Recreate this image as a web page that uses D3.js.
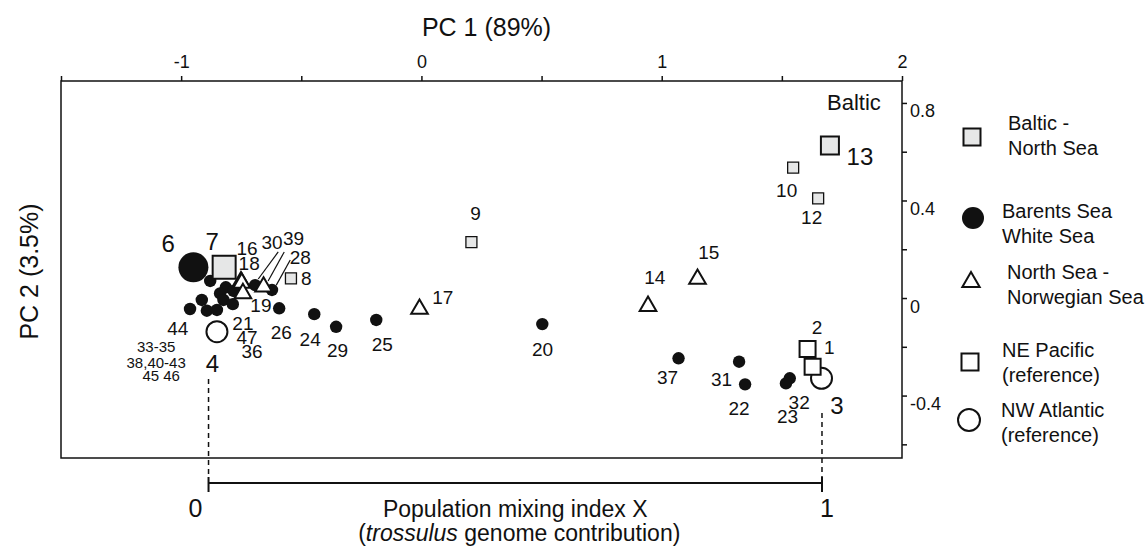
<!DOCTYPE html>
<html>
<head>
<meta charset="utf-8">
<script src="https://cdn.jsdelivr.net/npm/d3@7"></script>
<style>
  body { margin: 0; background: #fff; }
  svg { display: block; font-family: "Liberation Sans", Arial, Helvetica, sans-serif; fill: #111; }
</style>
</head>
<body>
<svg id="chart" width="1148" height="546"></svg>
<script>
//
// Data (PC1, PC2 scores)
//

const balticNorthSea = [
  {id: '7', pc1: -0.821, pc2: 0.126},
  {id: '8', pc1: -0.543, pc2: 0.081},
  {id: '9', pc1: 0.208, pc2: 0.229},
  {id: '10', pc1: 1.547, pc2: 0.535},
  {id: '12', pc1: 1.651, pc2: 0.409},
  {id: '13', pc1: 1.700, pc2: 0.625}
];

const barentsWhiteSea = [
  {id: '6', pc1: -0.949, pc2: 0.126},
  {id: '33', pc1: -0.879, pc2: 0.070},
  {id: '21', pc1: -0.814, pc2: 0.044},
  {id: '34', pc1: -0.838, pc2: 0.019},
  {id: '35', pc1: -0.824, pc2: -0.008},
  {id: '38', pc1: -0.914, pc2: -0.008},
  {id: '44', pc1: -0.963, pc2: -0.045},
  {id: '45', pc1: -0.893, pc2: -0.052},
  {id: '46', pc1: -0.851, pc2: -0.049},
  {id: '47', pc1: -0.785, pc2: -0.025},
  {id: '36', pc1: -0.782, pc2: 0.029},
  {id: '30', pc1: -0.692, pc2: 0.053},
  {id: '28', pc1: -0.622, pc2: 0.033},
  {id: '26', pc1: -0.592, pc2: -0.042},
  {id: '24', pc1: -0.446, pc2: -0.066},
  {id: '29', pc1: -0.355, pc2: -0.118},
  {id: '25', pc1: -0.188, pc2: -0.090},
  {id: '20', pc1: 0.503, pc2: -0.107},
  {id: '37', pc1: 1.070, pc2: -0.247},
  {id: '31', pc1: 1.322, pc2: -0.261},
  {id: '22', pc1: 1.347, pc2: -0.354},
  {id: '32', pc1: 1.533, pc2: -0.329},
  {id: '23', pc1: 1.517, pc2: -0.350}
];

const northNorwegianSea = [
  {id: '16', pc1: -0.751, pc2: 0.067},
  {id: '18', pc1: -0.748, pc2: 0.062},
  {id: '19', pc1: -0.743, pc2: 0.019},
  {id: '39', pc1: -0.657, pc2: 0.046},
  {id: '17', pc1: -0.008, pc2: -0.045},
  {id: '14', pc1: 0.943, pc2: -0.033},
  {id: '15', pc1: 1.149, pc2: 0.078}
];

const nePacific = [
  {id: '2', pc1: 1.607, pc2: -0.209},
  {id: '1', pc1: 1.628, pc2: -0.282}
];

const nwAtlantic = [
  {id: '3', pc1: 1.665, pc2: -0.329},
  {id: '4', pc1: -0.851, pc2: -0.138}
];

// Populations drawn larger in the figure
const bigPoints = ['6', '7', '13'];

// Mixing index X: 0 and 1 sit at these PC1 values
const mixIndex = [0, 1];
const mixAnchorsPc1 = [-0.886, 1.667];

const pc1Ticks = [-1.5, -1, -0.5, 0, 0.5, 1, 1.5, 2];
const pc2Ticks = [-0.6, -0.4, -0.2, 0, 0.2, 0.4, 0.6, 0.8];
const pc2Labelled = [-0.4, 0, 0.4, 0.8];

const legendNames = [
  ['Baltic -', 'North Sea'],
  ['Barents Sea', 'White Sea'],
  ['North Sea -', 'Norwegian Sea'],
  ['NE Pacific', '(reference)'],
  ['NW Atlantic', '(reference)']
];

// Point labels, placed in PC space: [text, pc1, pc2, kind]
const pointLabels = [
  ['6', -1.054, 0.226, 'big'], ['7', -0.871, 0.234, 'big'],
  ['16', -0.726, 0.204], ['18', -0.717, 0.142], ['30', -0.622, 0.231],
  ['39', -0.532, 0.245], ['28', -0.504, 0.167], ['8', -0.479, 0.081],
  ['19', -0.668, -0.029], ['21', -0.743, -0.104], ['47', -0.726, -0.161],
  ['36', -0.705, -0.216], ['44', -1.014, -0.124],
  ['33-35', -1.104, -0.200, 'small'], ['38,40-43', -1.104, -0.265, 'small'],
  ['45 46', -1.083, -0.319, 'small'], ['4', -0.870, -0.268, 'big'],
  ['26', -0.583, -0.141], ['24', -0.463, -0.168], ['29', -0.349, -0.213],
  ['25', -0.163, -0.189], ['17', 0.089, 0.005], ['9', 0.225, 0.350],
  ['20', 0.504, -0.209], ['14', 0.971, 0.087], ['15', 1.196, 0.190],
  ['37', 1.024, -0.323], ['31', 1.249, -0.332], ['22', 1.322, -0.453],
  ['32', 1.572, -0.425], ['23', 1.524, -0.483], ['2', 1.646, -0.120],
  ['1', 1.697, -0.202], ['3', 1.729, -0.439, 'big'], ['10', 1.520, 0.443],
  ['12', 1.624, 0.331], ['13', 1.825, 0.580, 'big'], ['Baltic', 1.80, 0.804, 'region']
];

// Leader lines from labels 30, 39, 28 to their points
const leaders = [
  [[-0.596, 0.189], [-0.679, 0.078]],
  [[-0.571, 0.189], [-0.638, 0.070]],
  [[-0.546, 0.156], [-0.604, 0.053]]
];

//
// Layout
//

const svg = d3.select('#chart');
const ink = '#111';
const grayFill = '#e6e7e7';
const fontSize = {normal: 19, big: 24, small: 15, region: 22};

const x = d3.scaleLinear().domain([-1.5, 2]).range([61, 902]);
const y = d3.scaleLinear().domain([-0.656, 0.89]).range([458, 81]);
const mix = d3.scaleLinear().domain(mixIndex).range(mixAnchorsPc1.map(x));

const symbolPath = (type, size) => d3.symbol().type(type).size(size)();

// Frame
svg.append('rect')
    .attr('x', x(-1.5)).attr('y', y(0.89))
    .attr('width', x(2) - x(-1.5)).attr('height', y(-0.656) - y(0.89))
    .attr('fill', 'none').attr('stroke', ink).attr('stroke-width', 1.5);

// Top axis (PC 1)
const topAxis = svg.append('g')
    .attr('transform', `translate(0,${y(0.89)})`)
    .call(d3.axisTop(x).tickValues(pc1Ticks).tickSize(5).tickSizeOuter(0).tickPadding(8)
      .tickFormat(d => Number.isInteger(d) ? String(d) : ''));
topAxis.select('.domain').remove();
topAxis.selectAll('line').attr('stroke', ink).attr('stroke-width', 1.5);
topAxis.selectAll('text').attr('font-size', 18).attr('fill', ink).attr('font-family', null);

// Right axis (PC 2)
const rightAxis = svg.append('g')
    .attr('transform', `translate(${x(2)},0)`)
    .call(d3.axisRight(y).tickValues(pc2Ticks).tickSize(5).tickSizeOuter(0).tickPadding(3)
      .tickFormat(d => pc2Labelled.some(v => Math.abs(v - d) < 1e-9) ? String(d) : ''));
rightAxis.select('.domain').remove();
rightAxis.selectAll('line').attr('stroke', ink).attr('stroke-width', 1.5);
rightAxis.selectAll('text').attr('font-size', 18).attr('fill', ink).attr('dy', '0.78em')
    .attr('font-family', null);

// Axis titles
svg.append('text')
    .attr('x', (x(-1.5) + x(2)) / 2 + 5).attr('y', 36)
    .attr('text-anchor', 'middle').attr('font-size', 25)
    .text('PC 1 (89%)');

svg.append('text')
    .attr('transform', `translate(38,${(y(0.89) + y(-0.656)) / 2 + 2}) rotate(-90)`)
    .attr('text-anchor', 'middle').attr('font-size', 25)
    .text('PC 2 (3.5%)');

// Leader lines
svg.append('g').selectAll('line')
  .data(leaders)
  .join('line')
    .attr('x1', d => x(d[0][0])).attr('y1', d => y(d[0][1]))
    .attr('x2', d => x(d[1][0])).attr('y2', d => y(d[1][1]))
    .attr('stroke', ink).attr('stroke-width', 1.2);

// Barents Sea - White Sea: filled circles
svg.append('g').selectAll('circle')
  .data(barentsWhiteSea)
  .join('circle')
    .attr('cx', d => x(d.pc1)).attr('cy', d => y(d.pc2))
    .attr('r', d => bigPoints.includes(d.id) ? 15 : 6.2)
    .attr('fill', ink);

// Baltic - North Sea: gray squares
svg.append('g').selectAll('path')
  .data(balticNorthSea)
  .join('path')
    .attr('transform', d => `translate(${x(d.pc1)},${y(d.pc2)})`)
    .attr('d', d => symbolPath(d3.symbolSquare, d.id === '7' ? 23 * 23 : d.id === '13' ? 18 * 18 : 11 * 11))
    .attr('fill', grayFill).attr('stroke', ink).attr('stroke-width', d => bigPoints.includes(d.id) ? 2 : 1.3);

// North Sea - Norwegian Sea: open triangles
svg.append('g').selectAll('path')
  .data(northNorwegianSea)
  .join('path')
    .attr('transform', d => `translate(${x(d.pc1)},${y(d.pc2)})`)
    .attr('d', symbolPath(d3.symbolTriangle, 120))
    .attr('fill', '#fff').attr('stroke', ink).attr('stroke-width', 2);

// NW Atlantic reference: open circles
svg.append('g').selectAll('circle')
  .data(nwAtlantic)
  .join('circle')
    .attr('cx', d => x(d.pc1)).attr('cy', d => y(d.pc2))
    .attr('r', 10.5)
    .attr('fill', '#fff').attr('stroke', ink).attr('stroke-width', 2);

// NE Pacific reference: open squares
svg.append('g').selectAll('path')
  .data(nePacific)
  .join('path')
    .attr('transform', d => `translate(${x(d.pc1)},${y(d.pc2)})`)
    .attr('d', symbolPath(d3.symbolSquare, 16 * 16))
    .attr('fill', '#fff').attr('stroke', ink).attr('stroke-width', 2);

// Point labels
svg.append('g').selectAll('text')
  .data(pointLabels)
  .join('text')
    .attr('x', d => x(d[1])).attr('y', d => y(d[2]))
    .attr('dy', '0.36em')
    .attr('text-anchor', 'middle')
    .attr('font-size', d => fontSize[d[3] || 'normal'])
    .text(d => d[0]);

// Mixing index scale bar
const barY = 483;
const mixG = svg.append('g');
mixG.append('line')
    .attr('x1', mix(0)).attr('x2', mix(1)).attr('y1', barY).attr('y2', barY)
    .attr('stroke', ink).attr('stroke-width', 2);
mixG.selectAll('.end')
  .data(mixIndex)
  .join('line')
    .attr('class', 'end')
    .attr('x1', d => mix(d)).attr('x2', d => mix(d))
    .attr('y1', barY - 6).attr('y2', barY + 9)
    .attr('stroke', ink).attr('stroke-width', 2);
// Dashed drops from the reference populations
mixG.selectAll('.drop')
  .data(mixIndex)
  .join('line')
    .attr('class', 'drop')
    .attr('x1', d => mix(d)).attr('x2', d => mix(d))
    .attr('y1', d => d === 0 ? 379 : 413).attr('y2', barY - 6)
    .attr('stroke', ink).attr('stroke-width', 1.5).attr('stroke-dasharray', '5,4');
mixG.selectAll('.mixlabel')
  .data(mixIndex)
  .join('text')
    .attr('class', 'mixlabel')
    .attr('x', d => mix(d) + (d === 0 ? -13 : 5)).attr('y', 517)
    .attr('text-anchor', 'middle').attr('font-size', 25)
    .text(d => String(d));

const mixTitle = svg.append('text')
    .attr('x', (mix(0) + mix(1)) / 2).attr('y', 517)
    .attr('text-anchor', 'middle').attr('font-size', 23);
mixTitle.append('tspan').text('Population mixing index X');
const mixSub = svg.append('text')
    .attr('x', (mix(0) + mix(1)) / 2 + 4).attr('y', 541)
    .attr('text-anchor', 'middle').attr('font-size', 23);
mixSub.append('tspan').text('(');
mixSub.append('tspan').attr('font-style', 'italic').text('trossulus');
mixSub.append('tspan').text(' genome contribution)');

// Legend
const legendSymY = [137, 218, 282, 362, 420];
const legendSymX = [972, 973, 971, 970, 969];
const legendTextX = [1008, 1002, 1007, 1002, 1001];
const legendTextY = [123, 211, 272, 350, 410];

const legend = svg.append('g');
const legendShapes = [
  g => g.append('path').attr('d', symbolPath(d3.symbolSquare, 17 * 17))
        .attr('fill', grayFill).attr('stroke', ink).attr('stroke-width', 2),
  g => g.append('circle').attr('r', 11).attr('fill', ink),
  g => g.append('path').attr('d', symbolPath(d3.symbolTriangle, 130))
        .attr('fill', '#fff').attr('stroke', ink).attr('stroke-width', 2),
  g => g.append('path').attr('d', symbolPath(d3.symbolSquare, 17 * 17))
        .attr('fill', '#fff').attr('stroke', ink).attr('stroke-width', 2),
  g => g.append('circle').attr('r', 11).attr('fill', '#fff').attr('stroke', ink).attr('stroke-width', 2)
];

legendNames.forEach((lines, i) => {
  const sym = legend.append('g').attr('transform', `translate(${legendSymX[i]},${legendSymY[i]})`);
  legendShapes[i](sym);
  legend.append('g').selectAll('text')
    .data(lines)
    .join('text')
      .attr('x', legendTextX[i])
      .attr('y', (d, j) => legendTextY[i] + j * 25)
      .attr('dy', '0.36em')
      .attr('font-size', 20)
      .text(d => d);
});
</script>
</body>
</html>
